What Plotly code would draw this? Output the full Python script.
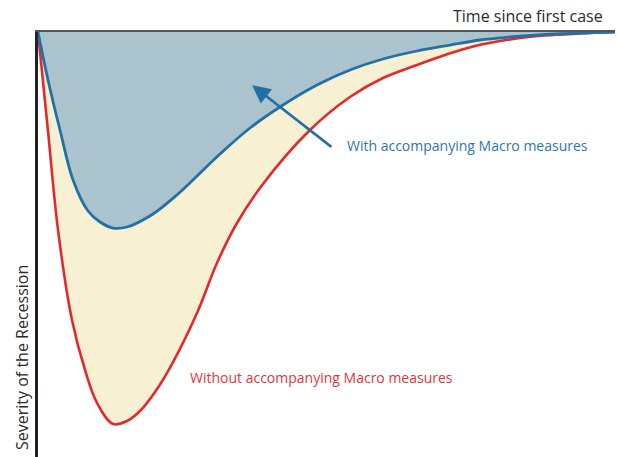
import plotly.graph_objects as go

# Time since first case (0-100) and severity of the recession (0 = no recession, 100 = axis bottom)
time_with = [0, 1.73, 3.81, 6.07, 8.67, 10.75, 13.0, 15.42, 19.93, 24.26, 26.86, 31.54, 36.74,
             42.46, 48.35, 54.07, 59.79, 65.68, 71.4, 76.6, 81.8, 87.87, 93.93, 100]
severity_with = [0, 11.29, 23.06, 34.82, 42.12, 44.71, 46.12, 45.88, 42.82, 38.12, 34.82, 28.71, 22.59,
                 17.18, 12.47, 8.94, 6.35, 4.47, 3.06, 1.88, 1.18, 0.59, 0.24, 0]

time_without = [0, 1.73, 3.47, 5.89, 8.15, 10.23, 13.0, 15.42, 17.68, 20.28, 23.22, 27.56, 31.02, 34.49,
                38.99, 47.14, 54.07, 59.79, 65.68, 70.54, 75.74, 81.8, 87.87, 93.93, 100]
severity_without = [0, 23.29, 46.59, 67.76, 79.53, 87.29, 92.24, 91.53, 89.18, 84.71, 78.12, 66.12, 54.35, 44.94,
                    35.76, 23.06, 15.29, 10.82, 7.76, 5.41, 3.29, 1.76, 0.82, 0.35, 0]

# Arrow pointing into the milder (blue) recession area
arrow_tail = (51.1, 27.3)
arrow_head = (37.1, 12.5)

BLUE = "#2270a6"
RED = "#e12a2c"
FILL_BLUE = "#aac3cd"
FILL_CREAM = "#f7f0d2"
FONT = "Open Sans"

fig = go.Figure()

fig.add_trace(go.Scatter(
    x=time_without, y=severity_without, mode="lines",
    line=dict(color=RED, width=2.6, shape="spline", smoothing=1.0),
    fill="tozeroy", fillcolor=FILL_CREAM, hoverinfo="skip",
))
fig.add_trace(go.Scatter(
    x=time_with, y=severity_with, mode="lines",
    line=dict(color=BLUE, width=2.8, shape="spline", smoothing=1.0),
    fill="tozeroy", fillcolor=FILL_BLUE, hoverinfo="skip",
))

fig.add_annotation(
    x=arrow_head[0], y=arrow_head[1], ax=arrow_tail[0], ay=arrow_tail[1],
    xref="x", yref="y", axref="x", ayref="y",
    showarrow=True, arrowhead=2, arrowsize=1.4, arrowwidth=2.6, arrowcolor=BLUE, text="",
)
fig.add_annotation(
    x=53.2, y=26.6, xref="x", yref="y", xanchor="left", yanchor="middle",
    text="With accompanying Macro measures", showarrow=False,
    font=dict(family=FONT, size=14, color="#2f76ae"),
)
fig.add_annotation(
    x=26.0, y=81.4, xref="x", yref="y", xanchor="left", yanchor="middle",
    text="Without accompanying Macro measures", showarrow=False,
    font=dict(family=FONT, size=14, color="#e2363b"),
)
fig.add_annotation(
    x=0.983, y=1.038, xref="paper", yref="paper", xanchor="right", yanchor="middle",
    text="Time since first case", showarrow=False,
    font=dict(family=FONT, size=16, color="#2b2b2b"),
)
fig.add_annotation(
    x=-0.028, y=0.235, xref="paper", yref="paper", xanchor="center", yanchor="middle",
    text="Severity of the Recession", textangle=-90, showarrow=False,
    font=dict(family=FONT, size=16, color="#2b2b2b"),
)

fig.update_layout(
    width=617, height=457,
    margin=dict(l=38, r=2, t=32, b=0),
    paper_bgcolor="white", plot_bgcolor="white",
    showlegend=False,
    xaxis=dict(range=[0, 100], side="top", showline=True, linecolor="#555555", linewidth=2,
               showgrid=False, zeroline=False, showticklabels=False, ticks="", fixedrange=True),
    yaxis=dict(range=[100, 0], showline=True, linecolor="#222222", linewidth=3,
               showgrid=False, zeroline=False, showticklabels=False, ticks="", fixedrange=True),
)

fig.write_html("out.html")
